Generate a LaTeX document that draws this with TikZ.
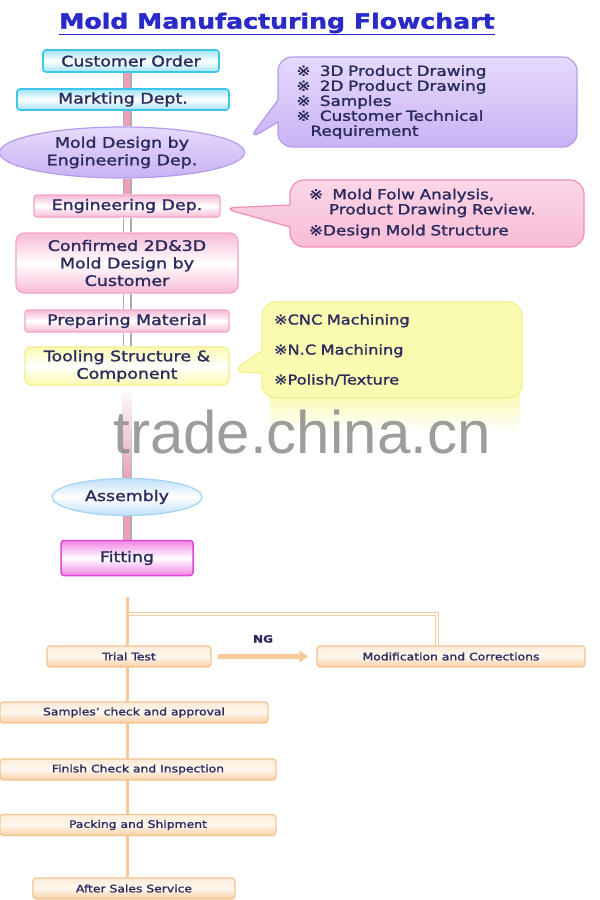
\documentclass[tikz,border=0pt]{standalone}
\usepackage{fontspec}
\setmainfont{DejaVu Sans}[FakeStretch=1.2, FakeBold=1.6]
\newfontfamily\wmfont{Liberation Sans}
\usetikzlibrary{shapes.geometric,shapes.callouts,arrows.meta,fadings,calc}
\pgfdeclarelayer{bg}
\pgfsetlayers{bg,main}
\definecolor{txt}{HTML}{2B2B5E}
\definecolor{titleblue}{HTML}{2A2AC8}
\definecolor{cyanB}{HTML}{3CC6EC}
\definecolor{cyanF}{HTML}{9FE4F7}
\definecolor{lavB}{HTML}{B59CEA}
\definecolor{lavF}{HTML}{C9B2F4}
\definecolor{lavT}{HTML}{E6DAFC}
\definecolor{pinkB}{HTML}{F2A4C8}
\definecolor{pinkF}{HTML}{F7BAD6}
\definecolor{pcB}{HTML}{F08EB8}
\definecolor{pcF}{HTML}{F8BCD6}
\definecolor{yelB}{HTML}{F0F08A}
\definecolor{yelF}{HTML}{FAFAB0}
\definecolor{bluB}{HTML}{A4D2F2}
\definecolor{bluF}{HTML}{BFE0F8}
\definecolor{magB}{HTML}{E048D8}
\definecolor{magF}{HTML}{F184E6}
\definecolor{orB}{HTML}{F5C38E}
\definecolor{orT}{HTML}{FDEBD8}
\definecolor{orBot}{HTML}{F8CFA2}
\definecolor{orL}{HTML}{F8CA9A}
\definecolor{pipeP}{HTML}{EE9EBE}
\definecolor{wm}{HTML}{8C8C8C}
\tikzset{
  box/.style={rectangle, rounded corners=3pt, align=center, text=txt,
    font=\fontsize{14.5}{17.5}\selectfont, inner sep=0pt},
  cyanbox/.style={box, draw=cyanB, line width=1.6pt, top color=cyanF, bottom color=cyanF, middle color=white},
  pinkbox/.style={box, draw=pinkB, line width=1.2pt, top color=pinkF, bottom color=pinkF, middle color=white},
  yelbox/.style={box, draw=yelB, line width=1.2pt, top color=yelF, bottom color=yelF, middle color=white},
  magbox/.style={box, draw=magB, line width=1.5pt, top color=magF, bottom color=magF, middle color=white},
  lavell/.style={ellipse, align=center, text=txt, font=\fontsize{14.5}{17.5}\selectfont, inner sep=0pt,
    draw=lavB, line width=1.2pt, top color=lavT, bottom color=lavF},
  bluell/.style={ellipse, align=center, text=txt, font=\fontsize{14.5}{17.5}\selectfont, inner sep=0pt,
    draw=bluB, line width=1.2pt, top color=bluF, bottom color=bluF, middle color=white},
  orbox/.style={rectangle, rounded corners=3pt, text=txt, font=\fontsize{10.3}{12}\selectfont,
    inner sep=0pt, draw=orB, line width=1.2pt, top color=orT, bottom color=orBot, middle color=white!60!orT},
  callbox/.style={rectangle callout, rounded corners=14pt, align=left, text=txt,
    font=\fontsize{14}{15}\selectfont, inner sep=0pt, line width=1.2pt, callout pointer width=22pt},
  pipeout/.style={draw=gray!65, line width=9pt},
  pipein/.style={draw=#1, line width=6pt},
  dbl/.style={draw=orL, double=white, double distance=2.5pt, line width=1.2pt},
}
\newcommand{\refmk}{※}
\begin{document}
\begin{tikzpicture}[x=1pt,y=-1pt]
\useasboundingbox (0,0) rectangle (600,900);
\begin{pgfonlayer}{bg}
\fill[white] (0,0) rectangle (600,900);
\end{pgfonlayer}
\coordinate (spine) at (127,0);

% title
\node[font=\bfseries\fontsize{21}{24}\selectfont, text=titleblue] (title) at (277,24)
  {\underline{Mold Manufacturing Flowchart}};

% upper column
\node[cyanbox, minimum width=176, minimum height=22] (co) at (131,61) {Customer Order};
\node[cyanbox, minimum width=212, minimum height=21] (mk) at (123,99.5) {Markting Dept.};
\node[lavell, minimum width=245, minimum height=51] (md) at (122,152.5) {Mold Design by\\Engineering Dep.};
\node[pinkbox, minimum width=186, minimum height=22] (en) at (127,206) {Engineering Dep.};
\node[pinkbox, rounded corners=8pt, minimum width=222, minimum height=60] (cf) at (127,263)
  {Confirmed 2D\&3D\\Mold Design by\\Customer};
\node[pinkbox, minimum width=204, minimum height=22] (pm) at (127,321) {Preparing Material};
\node[yelbox, rounded corners=6pt, minimum width=204, minimum height=38] (tl) at (127,366)
  {Tooling Structure \&\\Component};
\node[bluell, minimum width=150, minimum height=37] (as) at (127,497) {Assembly};
\node[magbox, minimum width=132, minimum height=35] (ft) at (127,558) {Fitting};

% pipes
\begin{pgfonlayer}{bg}
\foreach \a/\b/\c in {co/mk/pipeP, mk/md/pipeP, md/en/pipeP, en/cf/white, cf/pm/white, pm/tl/white, as/ft/pipeP}{
  \draw[pipeout] (\a.south -| spine) -- (\b.north -| spine);
  \draw[pipein=\c] (\a.south -| spine) -- (\b.north -| spine);
}
\coordinate (t1) at (tl.south -| spine);
\coordinate (a1) at (as.north -| spine);
\shade[top color=white, bottom color=gray!60] ($(t1)+(-4.5,0)$) rectangle ($(a1)+(4.5,0)$);
\shade[top color=white, bottom color=pipeP] ($(t1)+(-3,0)$) rectangle ($(a1)+(3,0)$);
\end{pgfonlayer}

% callouts
\node[callbox, draw=lavB, top color=lavT, bottom color=lavF, minimum width=299, minimum height=90,
  text width=262pt, callout absolute pointer={(248,140)}] (c1) at (427.5,102)
  {\refmk\ \ 3D Product Drawing\\ \refmk\ \ 2D Product Drawing\\ \refmk\ \ Samples\\ \refmk\ \ Customer Technical\\ \hspace*{14pt}Requirement};
\node[callbox, draw=pcB, top color=pcF!60, bottom color=pcF, minimum width=294, minimum height=67,
  text width=256pt, callout absolute pointer={(222,208)}] (c2) at (437,213.5)
  {\refmk\ \ Mold Folw Analysis,\\ \hspace*{20pt}Product Drawing Review.\\[6pt] \refmk Design Mold Structure};
\node[callbox, draw=yelB, fill=yelF, minimum width=260, minimum height=96,
  text width=236pt, font=\fontsize{13.5}{30}\selectfont, callout absolute pointer={(231,372)}] (c3) at (392,350)
  {\refmk CNC Machining\\ \refmk N.C Machining\\ \refmk Polish/Texture};
\begin{pgfonlayer}{bg}
\fill[yelF, path fading=south] (270,392) rectangle (520,432);
\end{pgfonlayer}

% lower orange section
\coordinate (otop) at (127,597);
\node[orbox, minimum width=164, minimum height=21] (tt) at (129,656.5) {Trial Test};
\node[orbox, minimum width=268, minimum height=21] (mc) at (451,656.5) {Modification and Corrections};
\node[orbox, minimum width=268, minimum height=21] (sc) at (134,712.5) {Samples' check and approval};
\node[orbox, minimum width=276, minimum height=21] (fc) at (138,769.5) {Finish Check and Inspection};
\node[orbox, minimum width=276, minimum height=21] (pk) at (138,825) {Packing and Shipment};
\node[orbox, minimum width=202, minimum height=21] (aft) at (134,888.5) {After Sales Service};
\begin{pgfonlayer}{bg}
\draw[orL, line width=3pt] (otop) -- (aft.north -| otop);
\end{pgfonlayer}
\coordinate (hs) at (129,614);
\draw[dbl] (hs) -| ([xshift=-14pt]mc.north);
\draw[orL, line width=5pt, -{Triangle[length=9pt,width=11pt]}] ([xshift=6pt]tt.east) -- ([xshift=-8pt]mc.west)
  node[midway, above=8pt, text=txt, font=\bfseries\fontsize{10}{12}\selectfont] (ng) {NG};

% watermark
\node[text=wm, opacity=0.85, font=\wmfont\fontsize{60}{60}\selectfont] (wmk) at (302,432) {trade.china.cn};
\end{tikzpicture}
\end{document}
